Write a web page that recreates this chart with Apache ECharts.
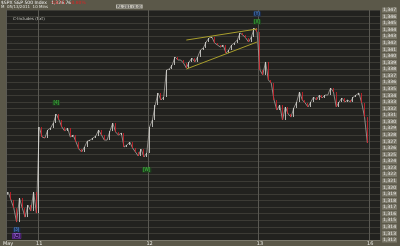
<!DOCTYPE html>
<html><head><meta charset="utf-8">
<script src="https://cdn.jsdelivr.net/npm/echarts@6/dist/echarts.min.js"></script>
<style>html,body{margin:0;padding:0;background:#5b5849;}#c{width:400px;height:246px;}</style>
</head><body><div id="c"></div>
<script>
// ---- data ----
const dayLabels = ['May', '11', '12', '13', '16'];
const dayStarts = [0, 11, 50, 89, 128];
const totalSlots = 132;
const firstOpen = 1318.9;
const closesDay10 = [1319.30, 1318.08, 1316.86, 1314.73, 1318.39, 1316.86, 1315.49, 1317.32, 1316.41, 1319.30, 1316.10];
const closesDay11 = [1329.19, 1327.67, 1327.52, 1328.74, 1329.04, 1329.80, 1331.17, 1330.26, 1329.19, 1328.58,
  1329.04, 1327.67, 1327.97, 1326.91, 1325.84, 1325.39, 1326.15, 1327.06, 1327.21, 1327.52,
  1327.82, 1328.74, 1327.97, 1327.21, 1327.21, 1328.58, 1329.80, 1328.43, 1327.97, 1328.28,
  1326.15, 1326.45, 1326.91, 1326.00, 1325.39, 1324.78, 1325.84, 1324.63, 1325.24];
const closesDay12 = [1329.19, 1330.26, 1332.54, 1334.37, 1333.30, 1333.76, 1337.87, 1338.02, 1338.63, 1339.85,
  1339.39, 1339.39, 1338.93, 1338.17, 1339.09, 1339.69, 1339.09, 1339.85, 1340.91, 1341.22,
  1342.13, 1342.74, 1342.89, 1341.98, 1341.67, 1341.37, 1341.67, 1340.46, 1340.91, 1341.67,
  1341.98, 1342.43, 1343.50, 1343.19, 1342.74, 1342.13, 1342.89, 1344.26, 1343.65];
const closesDay13 = [1337.87, 1337.11, 1339.09, 1336.35, 1335.89, 1333.30, 1331.78, 1332.54, 1330.26, 1332.24,
  1331.17, 1330.71, 1332.08, 1333.00, 1334.52, 1333.30, 1332.85, 1332.24, 1333.00, 1333.76,
  1333.30, 1334.06, 1333.61, 1334.06, 1334.06, 1335.13, 1334.52, 1332.24, 1333.00, 1333.61,
  1333.00, 1333.30, 1333.00, 1333.76, 1334.06, 1334.37, 1332.85, 1330.71, 1326.76];
const yMin = 1312, yMax = 1347, yStep = 1;
const wedgeUpper = [[63, 1342.43], [88, 1344.11]];
const wedgeLower = [[63, 1338.02], [88, 1342.13]];
const greenMarks = [[17, 1332.85, '[4]'], [49, 1322.65, '[W]'], [88, 1345.17, '[X]']];
const blueMarks = [[88, 1346.39, '(Y)'], [3, 1313.52, '(3)']];
const purpleMarks = [[3, 1312.60, '[C]']];

// ---- build ----
const closes = [].concat(closesDay10, closesDay11, closesDay12, closesDay13);
const categories = [];
for (let i = 0; i < totalSlots; i++) {
  const k = dayStarts.indexOf(i);
  categories.push(k >= 0 ? dayLabels[k] : 'b' + i);
}
const candles = closes.map((c, i) => {
  const o = i === 0 ? firstOpen : closes[i - 1];
  return [o, c, Math.min(o, c), Math.max(o, c)];
});
const isDay = (idx) => dayStarts.indexOf(idx) >= 0;
const fmt = v => v.toLocaleString('en-US');

const chart = echarts.init(document.getElementById('c'), null, {renderer: 'canvas'});
const labelMarks = (arr, color, bg, border) => ({
  type: 'scatter', symbolSize: 0, silent: true, z: 5,
  data: arr.map(a => ({value: [a[0], a[1]], name: a[2]})),
  label: {show: true, position: 'inside', formatter: p => p.name, fontSize: 4.5, fontWeight: 'bold',
    color: color, backgroundColor: bg, borderColor: border, borderWidth: border ? 0.5 : 0, padding: [0, 1]}
});
chart.setOption({
  backgroundColor: '#5b5849',
  animation: false,
  grid: {left: 1, right: 14, top: 10, bottom: 6, show: true, backgroundColor: '#22221f', borderWidth: 0},
  xAxis: {
    type: 'category', data: categories, boundaryGap: true,
    axisLine: {lineStyle: {color: '#7a776a'}}, axisTick: {show: false},
    axisLabel: {interval: (i) => isDay(i), fontSize: 5, color: '#e6e6e0', margin: 1, fontFamily: 'DejaVu Sans'},
    splitLine: {show: true, interval: (i) => isDay(i), lineStyle: {color: '#5a5953', width: 1}}
  },
  yAxis: {
    type: 'value', position: 'right', min: yMin, max: yMax, interval: yStep, scale: true,
    axisLine: {show: false}, axisTick: {show: false},
    axisLabel: {fontSize: 4.5, color: '#eeeeea', backgroundColor: '#7e7b6d', padding: [0, 1], margin: 2,
      formatter: v => fmt(v), fontFamily: 'DejaVu Sans'},
    splitLine: {lineStyle: {color: '#3c3b35', width: 1}}
  },
  series: [
    {
      type: 'line', data: closes, symbol: 'none', z: 2, silent: true,
      lineStyle: {color: '#a8a4a0', width: 0.8}
    },
    {
      type: 'candlestick', data: candles, barWidth: 1, barMinWidth: 1, barMaxWidth: 1, z: 3,
      itemStyle: {color: '#dcdcd8', color0: '#d41f2a', borderColor: '#dcdcd8', borderColor0: '#d41f2a', borderWidth: 0.8},
      markLine: {
        silent: true, symbol: ['none', 'none'], label: {show: false},
        lineStyle: {color: '#a89e2c', width: 1, type: 'solid'},
        data: [
          [{coord: wedgeUpper[0]}, {coord: wedgeUpper[1]}],
          [{coord: wedgeLower[0]}, {coord: wedgeLower[1]}]
        ]
      }
    },
    labelMarks(greenMarks, '#3fbf3f', '#1d4a1d', null),
    labelMarks(blueMarks, '#4f8fe0', '#1b2f55', null),
    labelMarks(purpleMarks, '#b080f0', '#3a1060', '#8040c0')
  ],
  graphic: [
    {type: 'text', left: 1, top: 0.5, style: {text: '$SPX S&P 500 Index   1,326.76', fontSize: 4.5, fill: '#f2f2f2', fontFamily: 'DejaVu Sans'}},
    {type: 'text', left: 51, top: 0.5, style: {text: '-10.71   -0.80%', fontSize: 4.5, fill: '#e02020', fontFamily: 'DejaVu Sans'}},
    {type: 'text', left: 1, top: 4.5, style: {text: 'M  05/13/2011  10 Mins', fontSize: 4, fill: '#e0e0da', fontFamily: 'DejaVu Sans'}},
    {type: 'text', left: 116, top: 4.5, style: {text: 'RL 201 (0.0)', fontSize: 4, fill: '#2a2a28', backgroundColor: '#bdbab0', padding: [0, 1], fontFamily: 'DejaVu Sans'}},
    {type: 'text', left: 13, top: 17, style: {text: 'C-Includes (Ext)', fontSize: 4, fill: '#c8c8c2', fontFamily: 'DejaVu Sans'}}
  ]
});
</script></body></html>
